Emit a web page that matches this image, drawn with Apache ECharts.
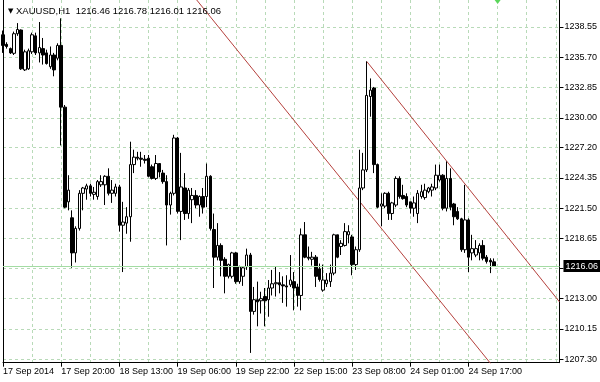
<!DOCTYPE html>
<html><head><meta charset="utf-8">
<script src="https://cdn.jsdelivr.net/npm/echarts@6/dist/echarts.min.js"></script>
<style>html,body{margin:0;padding:0;background:#fff}#c{width:600px;height:382px}</style>
</head><body><div id="c"></div>
<script>
const symbolName = 'XAUUSD,H1';
const lastQuote = ['1216.46', '1216.78', '1216.01', '1216.06'];
const lastPrice = 1216.06;

const opens = [1237.8,1236.9,1236.5,1236.06,1237.9,1238.25,1234.5,1234.6,1236.2,1237.7,
1236.1,1236.5,1236.1,1234.8,1235.9,1235.6,1236.8,1231.0,1222.1,1220.6,
1217.3,1219.6,1222.9,1223.3,1223.6,1222.8,1222.6,1223.7,1223.7,1224.5,
1222.9,1222.9,1223.5,1219.9,1220.1,1220.7,1225.6,1226.3,1226.2,1226.1,
1226.2,1225.4,1224.3,1225.7,1224.8,1224.0,1221.8,1222.9,1228.1,1221.2,
1223.4,1221.0,1222.3,1222.7,1221.8,1222.6,1222.6,1224.5,1219.5,1216.9,
1218.0,1216.7,1215.1,1215.1,1217.3,1214.6,1215.1,1216.0,1217.1,1211.8,
1212.9,1212.8,1213.2,1212.9,1214.0,1214.4,1214.5,1214.3,1214.2,1214.3,
1214.6,1214.1,1213.3,1219.0,1216.9,1216.7,1216.9,1215.8,1213.8,1214.4,
1214.6,1215.4,1219.0,1217.9,1218.0,1219.0,1218.8,1216.2,1217.6,1223.4,
1225.1,1232.0,1232.8,1225.6,1221.7,1221.7,1222.9,1221.0,1221.8,1224.3,
1222.7,1222.6,1222.1,1221.5,1221.0,1222.6,1222.5,1223.05,1223.2,1223.4,
1224.15,1224.6,1221.5,1224.3,1221.9,1221.2,1220.5,1217.6,1220.4,1217.3,
1217.1,1217.3,1218.0,1216.9,1216.6,1216.46];
const highs = [1238.2,1237.1,1236.6,1238.1,1238.9,1238.3,1236.4,1236.5,1238.0,1238.0,
1239.0,1237.5,1236.4,1236.7,1236.1,1237.0,1239.35,1231.2,1224.6,1221.3,
1219.8,1223.2,1223.5,1223.8,1223.8,1223.5,1224.15,1224.6,1224.6,1225.25,
1224.15,1223.8,1223.7,1222.1,1221.6,1227.75,1227.0,1226.8,1226.8,1226.5,
1226.5,1225.6,1226.5,1225.7,1225.1,1224.6,1223.05,1228.4,1228.2,1226.7,
1224.8,1223.4,1223.4,1223.2,1222.7,1223.4,1225.7,1224.6,1221.0,1220.1,
1218.2,1216.9,1216.3,1217.4,1217.4,1216.1,1216.0,1217.7,1217.3,1214.1,
1214.6,1213.65,1214.0,1214.75,1215.7,1216.0,1215.5,1215.1,1215.2,1217.1,
1215.5,1214.4,1219.6,1220.2,1217.9,1217.4,1217.1,1216.3,1216.2,1215.4,
1216.2,1219.1,1219.0,1218.5,1220.1,1219.9,1219.0,1217.9,1227.0,1226.7,
1235.3,1233.7,1232.9,1225.7,1222.9,1223.0,1223.05,1222.1,1224.5,1224.5,
1223.7,1222.9,1222.1,1222.6,1223.2,1223.7,1223.8,1223.5,1223.8,1225.6,
1225.6,1224.7,1225.9,1225.25,1222.0,1221.6,1220.6,1223.7,1220.55,1219.0,
1218.5,1218.2,1218.5,1217.1,1216.8,1216.78];
const lows = [1236.1,1236.5,1236.0,1235.9,1237.7,1234.5,1234.4,1234.5,1236.0,1235.9,
1235.2,1235.0,1235.0,1234.6,1233.9,1235.4,1227.4,1221.5,1221.3,1215.9,
1216.4,1219.4,1221.3,1222.3,1222.6,1222.3,1222.3,1223.5,1221.8,1222.7,
1222.0,1222.6,1219.3,1215.5,1219.1,1218.35,1224.8,1226.0,1225.4,1225.7,
1224.4,1224.2,1224.15,1224.4,1223.8,1218.0,1220.9,1222.7,1221.0,1218.5,
1220.4,1220.5,1220.1,1221.5,1220.7,1221.0,1221.6,1219.4,1214.0,1216.6,
1215.1,1213.5,1214.9,1214.9,1214.4,1214.4,1214.2,1215.7,1207.9,1211.5,
1210.4,1211.6,1210.4,1211.3,1213.3,1213.2,1213.5,1212.6,1212.25,1214.1,
1211.9,1212.25,1211.9,1216.8,1216.6,1216.1,1214.1,1214.6,1213.65,1214.1,
1214.1,1215.2,1216.8,1217.1,1217.9,1218.2,1215.2,1215.7,1217.4,1223.2,
1224.9,1230.1,1224.8,1221.5,1219.8,1221.5,1220.4,1220.4,1221.6,1222.4,
1222.3,1221.6,1221.0,1220.7,1220.1,1222.4,1222.3,1222.9,1222.6,1223.2,
1224.0,1221.3,1221.2,1221.3,1219.9,1220.4,1217.4,1217.3,1215.5,1216.6,
1216.9,1216.6,1216.6,1216.3,1215.4,1216.01];
const closes = [1236.8,1236.7,1236.1,1237.9,1238.3,1234.6,1236.2,1236.3,1237.8,1236.1,
1236.6,1235.9,1235.1,1235.9,1234.5,1236.8,1231.0,1221.6,1223.2,1217.3,
1219.6,1222.9,1223.4,1223.6,1222.9,1223.0,1224.0,1224.0,1224.5,1222.9,
1223.2,1223.5,1219.9,1220.2,1220.7,1225.6,1226.3,1226.2,1226.1,1226.0,
1224.5,1224.3,1225.7,1224.9,1224.0,1221.8,1222.9,1228.1,1221.2,1223.5,
1221.0,1223.2,1222.7,1221.8,1222.6,1221.6,1224.5,1219.6,1216.9,1218.0,
1216.6,1215.1,1216.2,1217.3,1214.6,1216.0,1215.9,1217.1,1211.8,1212.9,
1212.7,1213.0,1212.8,1214.0,1214.4,1214.5,1214.3,1214.2,1214.1,1214.75,
1214.0,1213.3,1219.0,1216.9,1216.8,1216.9,1215.1,1214.8,1214.75,1214.75,
1215.4,1219.0,1216.9,1218.2,1219.3,1219.3,1216.2,1217.6,1223.4,1225.1,
1232.1,1232.6,1225.6,1221.6,1221.9,1222.9,1221.0,1222.0,1224.3,1222.6,
1222.4,1221.8,1221.5,1222.0,1222.9,1223.05,1223.2,1223.4,1223.5,1224.6,
1224.6,1221.5,1224.3,1221.6,1220.7,1220.5,1217.6,1220.4,1216.9,1217.7,
1217.7,1218.0,1216.8,1216.5,1216.45,1216.06];

const tickLabels = ['17 Sep 2014','17 Sep 20:00','18 Sep 13:00','19 Sep 06:00','19 Sep 22:00',
  '22 Sep 15:00','23 Sep 08:00','24 Sep 01:00','24 Sep 17:00'];
const labelEvery = 16;
const gridEvery = 8;
const slotCount = 154;

const priceTicks = [1207.30,1210.15,1213.00,1215.85,1218.65,1221.50,1224.35,1227.20,1230.00,1232.85,1235.70,1238.55];
const priceLabels = [1207.30,1210.15,1213.00,1218.65,1221.50,1224.35,1227.20,1230.00,1232.85,1235.70,1238.55];
const yMin = 1206.98, yMax = 1241.07;

const trendLower = [[50, 1242.45], [136, 1206.09]];
const trendUpper = [[100, 1235.3], [153, 1212.7]];
const shiftMarker = [136, 1241.07];

const FONT = 'Liberation Sans';
const slots = Array.from({length: slotCount}, (_, i) => String(i));
const candles = opens.map((o, i) => [o, closes[i], lows[i], highs[i]]);
const isLabel = i => i % labelEvery === 0 && i / labelEvery < tickLabels.length;
const gridCol = '#b8dab8';
const trendCol = '#b5403c';

const chart = echarts.init(document.getElementById('c'), null, {renderer: 'canvas'});
chart.setOption({
  animation: false,
  backgroundColor: '#fff',
  title: {
    text: '{t|▼} ' + symbolName + '  ' + lastQuote.join(' '),
    left: 3, top: 1,
    textStyle: {fontSize: 9.5, fontWeight: 'normal', color: '#000', fontFamily: FONT,
      rich: {t: {fontSize: 7, color: '#000', fontFamily: 'DejaVu Sans'}}}
  },
  grid: {left: 1, right: 39.2, top: 0, bottom: 19.3, containLabel: false},
  xAxis: {
    type: 'category', data: slots, boundaryGap: false,
    axisLine: {show: true, onZero: false, lineStyle: {color: '#000', width: 1}},
    axisTick: {show: true, length: 4, interval: isLabel, lineStyle: {color: '#000'}},
    axisLabel: {interval: isLabel, formatter: (v, i) => tickLabels[Math.round(i / labelEvery)],
      align: 'left', margin: 4, fontSize: 9, color: '#000', fontFamily: FONT},
    splitLine: {show: true, interval: i => i % gridEvery === 0,
      lineStyle: {color: gridCol, type: [3, 3], width: 1}}
  },
  yAxis: [{
    type: 'value', position: 'right', min: yMin, max: yMax, scale: true,
    axisLine: {show: true, lineStyle: {color: '#000'}},
    axisTick: {show: true, length: 4, customValues: priceTicks, lineStyle: {color: '#000'}},
    axisLabel: {customValues: priceLabels, formatter: v => v.toFixed(2), margin: 5,
      fontSize: 9, color: '#000', fontFamily: FONT},
    splitLine: {show: true, lineStyle: {color: gridCol, type: [3, 3], width: 1}}
  }, {
    type: 'value', position: 'left', min: yMin, max: yMax, scale: true,
    axisLine: {show: true, lineStyle: {color: '#000'}},
    axisTick: {show: false}, axisLabel: {show: false}, splitLine: {show: false}
  }],
  series: [{
    type: 'line', data: trendLower, yAxisIndex: 0, symbol: 'none', silent: true, clip: true,
    lineStyle: {color: trendCol, width: 1}, z: 1
  }, {
    type: 'line', data: trendUpper, yAxisIndex: 0, symbol: 'none', silent: true, clip: true,
    lineStyle: {color: trendCol, width: 1}, z: 1
  }, {
    type: 'candlestick', data: candles, yAxisIndex: 0, barWidth: 3, z: 3,
    itemStyle: {color: '#fff', color0: '#000', borderColor: '#000', borderColor0: '#000', borderWidth: 1},
    markLine: {
      silent: true, symbol: 'none', animation: false,
      data: [{yAxis: lastPrice}],
      lineStyle: {color: '#a3dca3', type: 'solid', width: 1},
      label: {position: 'end', formatter: lastQuote[3], distance: 4, color: '#fff',
        backgroundColor: '#000', padding: [2, 2, 1, 2], fontSize: 9, fontFamily: FONT}
    },
    markPoint: {
      silent: true, animation: false,
      data: [{coord: shiftMarker, symbol: 'triangle', symbolRotate: 180, symbolSize: [12, 8],
        itemStyle: {color: '#5ad65a'}, label: {show: false}}]
    }
  }]
});
</script></body></html>
